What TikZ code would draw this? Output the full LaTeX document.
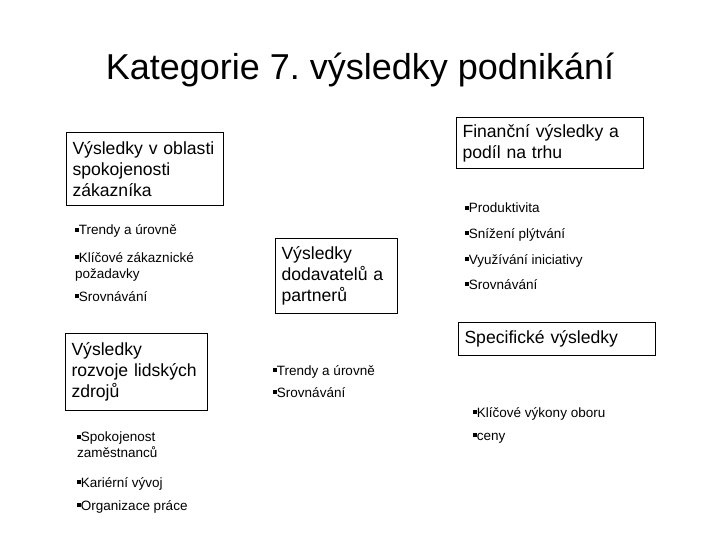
\documentclass[tikz,border=0pt]{standalone}
\usepackage{fontspec}
\setmainfont{Liberation Sans}
\frenchspacing
\newcommand\bul{\rule[0.22em]{0.28em}{0.28em}}
\tikzset{
  box/.style={draw=black, line width=1pt, anchor=north west, inner xsep=6pt, inner ysep=0pt, align=left,
    font=\fontsize{17.6}{21}\selectfont},
  btxt/.style={anchor=base west, inner sep=0pt, align=left, font=\fontsize{13.5}{16}\selectfont},
  title/.style={anchor=base, inner sep=0pt, font=\fontsize{36}{40}\selectfont}
}
\begin{document}
\begin{tikzpicture}[x=1pt,y=-1pt]
\useasboundingbox (0,0) rectangle (720,540);
\node[title] (t) at (360,80) {Kategorie 7. výsledky podnikání};
% boxes
\node[box, minimum width=157pt, minimum height=73pt, text width=145pt] (b1) at (66,132)
  {Výsledky v oblasti\\spokojenosti\\zákazníka};
\node[box, minimum width=187pt, minimum height=51pt, text width=175pt] (b2) at (456,117)
  {Finanční výsledky a\\podíl na trhu};
\node[box, minimum width=122pt, minimum height=75pt, text width=110pt] (b3) at (275,238)
  {Výsledky\\dodavatelů a\\partnerů};
\node[box, minimum width=142pt, minimum height=77pt, text width=130pt] (b4) at (65,333)
  {Výsledky\\rozvoje lidských\\zdrojů};
\node[box, minimum width=197pt, minimum height=33pt, text width=185pt] (b5) at (458,322)
  {Specifické výsledky};
% bullets left
\node[btxt] (l1) at (75,235) {\bul Trendy a úrovně};
\node[btxt, font=\fontsize{13.5}{16}\selectfont] (l2) at (75,278) {\bul Klíčové zákaznické\\požadavky};
\node[btxt] (l3) at (75,301) {\bul Srovnávání};
% bullets right
\node[btxt] (r1) at (465,213) {\bul Produktivita};
\node[btxt] (r2) at (465,238) {\bul Snížení plýtvání};
\node[btxt] (r3) at (465,264) {\bul Využívání iniciativy};
\node[btxt] (r4) at (465,289) {\bul Srovnávání};
% bullets middle
\node[btxt] (m1) at (273,375) {\bul Trendy a úrovně};
\node[btxt] (m2) at (273,397) {\bul Srovnávání};
% bullets bottom left
\node[btxt, font=\fontsize{13.5}{15.5}\selectfont] (h1) at (77,457) {\bul Spokojenost\\zaměstnanců};
\node[btxt] (h2) at (77,487) {\bul Kariérní vývoj};
\node[btxt] (h3) at (77,510) {\bul Organizace práce};
% bullets bottom right
\node[btxt] (s1) at (473,417) {\bul Klíčové výkony oboru};
\node[btxt] (s2) at (473,440) {\bul ceny};
\end{tikzpicture}
\end{document}
